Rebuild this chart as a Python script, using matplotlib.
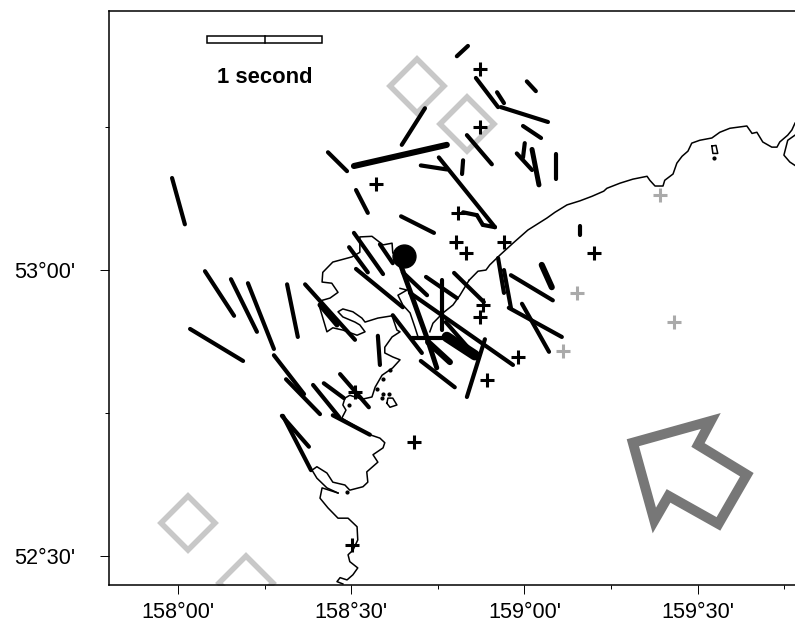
"""Map of shear-wave splitting bars off Kamchatka, with stations and coastline."""

import matplotlib
matplotlib.use("Agg")
import matplotlib.pyplot as plt
from matplotlib.patches import Rectangle

plt.rcParams["font.family"] = ["Liberation Sans", "DejaVu Sans"]

# Splitting bars as (lon0, lat0, lon1, lat1) in degrees, grouped by bar weight.
BARS = [
    (157.983, 53.161, 158.020, 53.080), (158.433, 53.206, 158.488, 53.173),
    (158.713, 53.283, 158.646, 53.219), (158.514, 53.140, 158.548, 53.100),
    (158.644, 53.094, 158.739, 53.065), (158.837, 53.392, 158.805, 53.374),
    (158.860, 53.336, 158.924, 53.285), (158.921, 53.311, 158.941, 53.292),
    (159.007, 53.330, 159.033, 53.313), (158.932, 53.285, 159.068, 53.259),
    (158.996, 53.252, 159.048, 53.231), (158.834, 53.236, 158.906, 53.185),
    (158.823, 53.192, 158.820, 53.168), (158.701, 53.183, 158.776, 53.176),
    (158.753, 53.197, 158.915, 53.075), (158.823, 53.101, 158.863, 53.096),
    (158.863, 53.096, 158.880, 53.079), (158.880, 53.079, 158.915, 53.075),
    (159.001, 53.222, 158.996, 53.197), (158.978, 53.204, 159.022, 53.175),
    (159.091, 53.203, 159.091, 53.159), (159.160, 53.077, 159.160, 53.061),
    (158.508, 53.065, 158.592, 52.993), (158.494, 53.040, 158.548, 52.996),
    (158.583, 53.045, 158.620, 53.012), (158.514, 53.002, 158.649, 52.935),
    (158.367, 52.975, 158.511, 52.878), (158.649, 52.996, 158.719, 52.956),
    (158.716, 52.988, 158.805, 52.951), (158.762, 52.982, 158.762, 52.895),
    (158.797, 52.995, 158.883, 52.944), (158.670, 52.960, 158.967, 52.834),
    (158.924, 53.021, 158.941, 52.960), (158.941, 53.000, 158.961, 52.934),
    (158.961, 52.991, 159.082, 52.947), (158.955, 52.934, 159.108, 52.883),
    (158.993, 52.941, 159.071, 52.857), (158.620, 52.921, 158.704, 52.855),
    (158.675, 52.881, 158.779, 52.881), (158.773, 52.909, 158.851, 52.855),
    (158.701, 52.841, 158.799, 52.795), (158.886, 52.879, 158.834, 52.778),
    (158.577, 52.885, 158.583, 52.834), (158.468, 52.818, 158.551, 52.760),
    (158.421, 52.802, 158.479, 52.776), (158.390, 52.799, 158.465, 52.743),
    (158.312, 52.809, 158.410, 52.748), (158.447, 52.746, 158.554, 52.712),
    (158.078, 52.998, 158.162, 52.920), (158.153, 52.984, 158.228, 52.892),
    (158.202, 52.977, 158.277, 52.862), (158.315, 52.975, 158.346, 52.883),
    (158.035, 52.897, 158.188, 52.841), (158.277, 52.851, 158.364, 52.783),
    (158.300, 52.745, 158.378, 52.691), (158.303, 52.745, 158.384, 52.650),
]
STRONG_BARS = [
    (159.022, 53.211, 159.042, 53.149), (158.410, 52.939, 158.459, 52.904),
    (158.641, 53.012, 158.719, 52.881), (158.719, 52.881, 158.747, 52.829),
]
THICK_BARS = [
    (158.508, 53.182, 158.776, 53.219), (158.722, 52.874, 158.785, 52.839),
    (159.050, 53.009, 159.079, 52.970),
]
THICKEST_BARS = [(158.776, 52.883, 158.857, 52.851)]

# Coastline pieces, degrees.
EAST_LON = [158.840, 158.866, 158.889, 158.900, 158.929, 158.967, 159.010, 159.065, 159.088, 159.123,
            159.160, 159.195, 159.229, 159.238, 159.276, 159.313, 159.354, 159.362, 159.377, 159.400,
            159.405, 159.429, 159.440, 159.455, 159.472, 159.483, 159.506, 159.541, 159.564, 159.593,
            159.642, 159.657, 159.671, 159.688, 159.714, 159.729, 159.737, 159.760, 159.772, 159.781]
EAST_LAT = [52.982, 52.998, 53.000, 53.009, 53.026, 53.047, 53.070, 53.091, 53.101, 53.114,
            53.121, 53.129, 53.138, 53.143, 53.152, 53.159, 53.164, 53.157, 53.147, 53.147,
            53.157, 53.168, 53.187, 53.199, 53.208, 53.222, 53.227, 53.231, 53.241, 53.248,
            53.252, 53.239, 53.241, 53.224, 53.215, 53.215, 53.224, 53.236, 53.245, 53.257]
CAPE_LON = [159.781, 159.760, 159.749, 159.766, 159.781]
CAPE_LAT = [53.236, 53.227, 53.201, 53.189, 53.183]
BAY_LON = [158.840, 158.814, 158.794, 158.765, 158.736, 158.727]
BAY_LAT = [52.982, 52.956, 52.939, 52.925, 52.907, 52.892]
INNER_LON = [158.641, 158.661, 158.635, 158.649, 158.670, 158.684, 158.693]
INNER_LAT = [52.968, 52.965, 52.956, 52.939, 52.925, 52.900, 52.883]
WEST_LON = [158.620, 158.618, 158.592, 158.560, 158.525, 158.525, 158.502, 158.447, 158.418, 158.416,
            158.444, 158.462, 158.439, 158.416, 158.407, 158.430, 158.447, 158.476, 158.517, 158.540,
            158.525, 158.511, 158.476, 158.462, 158.476, 158.505, 158.531, 158.540, 158.577, 158.618,
            158.632, 158.641, 158.618, 158.597, 158.597, 158.620, 158.641, 158.620, 158.589, 158.569,
            158.560, 158.531, 158.496, 158.482, 158.476, 158.485, 158.473, 158.554, 158.583, 158.597,
            158.592, 158.563, 158.577, 158.545, 158.548, 158.534, 158.496, 158.482, 158.447, 158.430,
            158.401, 158.387, 158.401, 158.430, 158.462]
WEST_LAT = [53.030, 53.047, 53.044, 53.059, 53.058, 53.031, 53.023, 53.014, 52.996, 52.979,
            52.977, 52.961, 52.951, 52.947, 52.939, 52.892, 52.899, 52.895, 52.886, 52.892,
            52.904, 52.909, 52.918, 52.927, 52.932, 52.927, 52.916, 52.909, 52.916, 52.920,
            52.895, 52.892, 52.883, 52.865, 52.855, 52.848, 52.843, 52.829, 52.816, 52.795,
            52.778, 52.774, 52.781, 52.776, 52.764, 52.755, 52.741, 52.712, 52.706, 52.698,
            52.689, 52.677, 52.664, 52.647, 52.629, 52.621, 52.615, 52.624, 52.629, 52.645,
            52.656, 52.650, 52.636, 52.619, 52.610]
SOUTH_LON = [158.462, 158.416, 158.410, 158.433, 158.462, 158.491, 158.517, 158.519, 158.505, 158.491,
             158.496, 158.519, 158.505, 158.488, 158.468, 158.459, 158.476]
SOUTH_LAT = [52.610, 52.619, 52.601, 52.584, 52.566, 52.566, 52.551, 52.528, 52.510, 52.502,
             52.490, 52.479, 52.467, 52.458, 52.462, 52.455, 52.451]
ISLE_A_LON = [159.541, 159.553, 159.558, 159.544, 159.541]
ISLE_A_LAT = [53.217, 53.218, 53.204, 53.204, 53.217]
ISLE_B_LON = [158.603, 158.606, 158.620, 158.632, 158.612, 158.603]
ISLE_B_LAT = [52.767, 52.776, 52.776, 52.764, 52.760, 52.767]
ROCK_LON = [159.547, 158.488, 158.574, 158.589, 158.609, 158.592, 158.592, 158.494, 158.612]
ROCK_LAT = [53.196, 52.612, 52.792, 52.776, 52.783, 52.783, 52.809, 52.764, 52.825]

# Stations and events.
PLUS_LON = [158.872, 158.872, 158.808, 158.802, 158.831, 158.941, 159.201, 158.571, 158.880, 158.872,
            158.981, 158.892, 158.681, 158.511, 158.502]
PLUS_LAT = [53.351, 53.250, 53.100, 53.049, 53.030, 53.049, 53.030, 53.150, 52.939, 52.918,
            52.848, 52.808, 52.699, 52.787, 52.519]
GREY_PLUS_LON = [159.391, 159.152, 159.111, 159.431]
GREY_PLUS_LAT = [53.131, 52.960, 52.858, 52.909]
DIAMOND_LON = [158.690, 158.834, 158.029, 158.196]
DIAMOND_LAT = [53.322, 53.255, 52.558, 52.453]
VOLCANO_LON = [158.652]
VOLCANO_LAT = [53.024]

# Plate-motion arrow outline.
ARROW_LON = [159.313, 159.538, 159.501, 159.642, 159.560, 159.416, 159.375]
ARROW_LAT = [52.698, 52.736, 52.694, 52.642, 52.556, 52.605, 52.562]

LON_TICKS = [158.0, 158.5, 159.0, 159.5]
LON_LABELS = ["158°00'", "158°30'", "159°00'", "159°30'"]
LON_MINOR = [158.25, 158.75, 159.25, 159.75]
LAT_TICKS = [52.5, 53.0]
LAT_LABELS = ["52°30'", "53°00'"]
LAT_MINOR = [52.75, 53.25]


def draw_bars(ax, bars, width):
    for lon0, lat0, lon1, lat1 in bars:
        ax.plot([lon0, lon1], [lat0, lat1], color="black", linewidth=width,
                solid_capstyle="round", zorder=4)


fig = plt.figure(figsize=(7.95, 6.22), dpi=100)
ax = fig.add_axes([109 / 795, 37.5 / 622, 686 / 795, 574 / 622])
ax.set_xlim(157.801, 159.781)
ax.set_ylim(52.45, 53.454)

ax.plot(DIAMOND_LON, DIAMOND_LAT, "D", markersize=28, markerfacecolor="none",
        markeredgecolor="#c8c8c8", markeredgewidth=4.0, zorder=1)

for xs, ys in [(EAST_LON, EAST_LAT), (CAPE_LON, CAPE_LAT), (BAY_LON, BAY_LAT), (INNER_LON, INNER_LAT),
               (WEST_LON, WEST_LAT), (SOUTH_LON, SOUTH_LAT), (ISLE_A_LON, ISLE_A_LAT), (ISLE_B_LON, ISLE_B_LAT)]:
    ax.plot(xs, ys, color="black", linewidth=1.1, zorder=2)
ax.plot(ROCK_LON, ROCK_LAT, "o", color="black", markersize=2.0, zorder=2)

ax.plot(GREY_PLUS_LON, GREY_PLUS_LAT, "+", color="#aaaaaa", markersize=9.5, markeredgewidth=2.2, zorder=3)
ax.plot(PLUS_LON, PLUS_LAT, "+", color="black", markersize=9.5, markeredgewidth=2.2, zorder=3)

draw_bars(ax, BARS, 3.0)
draw_bars(ax, STRONG_BARS, 3.6)
draw_bars(ax, THICK_BARS, 4.4)
draw_bars(ax, THICKEST_BARS, 7.5)

ax.plot(VOLCANO_LON, VOLCANO_LAT, "o", color="black", markersize=16.5, zorder=5)

ax.fill(ARROW_LON, ARROW_LAT, facecolor="none", edgecolor="#777777", linewidth=7.2,
        joinstyle="miter", zorder=3)

# Scale bar
ax.add_patch(Rectangle((158.085, 53.397), 0.332, 0.013, facecolor="white", edgecolor="black",
                       linewidth=1.1, zorder=3))
ax.plot([158.251, 158.251], [53.397, 53.41], color="black", linewidth=1.1, zorder=3)
ax.text(158.251, 53.336, "1 second", ha="center", va="center", fontsize=15.8, fontweight="bold")

ax.spines["right"].set_visible(False)
for side in ("left", "bottom", "top"):
    ax.spines[side].set_linewidth(1.1)

ax.set_xticks(LON_TICKS)
ax.set_xticklabels(LON_LABELS)
ax.set_xticks(LON_MINOR, minor=True)
ax.set_yticks(LAT_TICKS)
ax.set_yticklabels(LAT_LABELS)
ax.set_yticks(LAT_MINOR, minor=True)
ax.tick_params(axis="both", which="major", length=6.5, width=0.7, labelsize=15.6)
ax.tick_params(axis="both", which="minor", length=3, width=0.7)
ax.tick_params(axis="x", which="major", pad=6)
ax.tick_params(axis="y", which="major", pad=18)

fig.savefig("out.png", dpi=100)
plt.close(fig)
